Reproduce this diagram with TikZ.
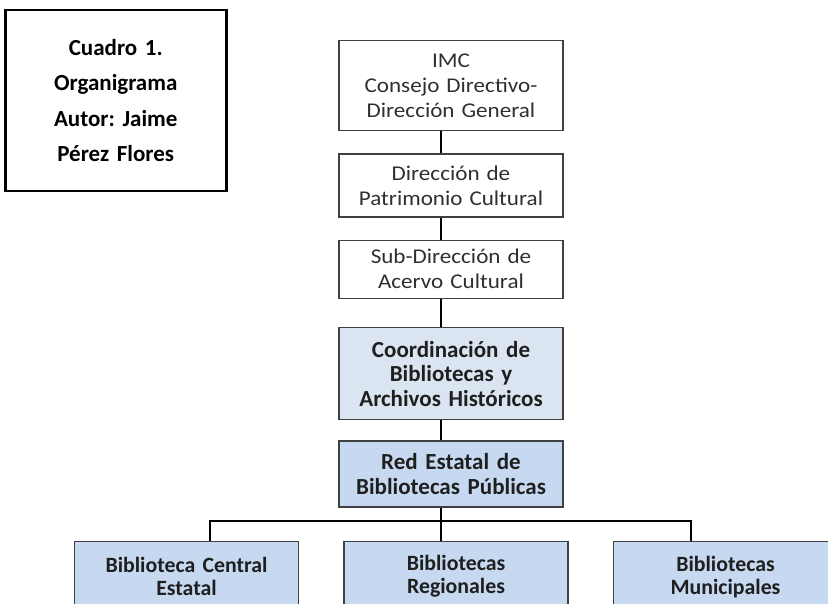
\documentclass[tikz,border=0pt]{standalone}
\usepackage{fontspec}
\setmainfont{Carlito}
\newfontfamily\widefont[FakeStretch=1.1]{Carlito}
\usetikzlibrary{positioning}
\definecolor{paleblue}{HTML}{DBE5F1}
\definecolor{lightblue}{HTML}{C6D9F1}
\definecolor{boxline}{HTML}{404040}
\definecolor{greytext}{HTML}{2F2F2F}
\tikzstyle{title} = [rectangle, minimum width=221pt, minimum height=181pt, text width=210pt, align=center, draw=black, line width=2.8pt, font=\fontsize{23}{35.5}\selectfont\bfseries]
\tikzstyle{unit} = [rectangle, minimum width=224pt, text width=216pt, align=center, draw=boxline, line width=1.3pt, text=greytext, font=\widefont\fontsize{21}{25}\selectfont]
\tikzstyle{coordbox} = [unit, fill=paleblue, text=black!88, font=\rmfamily\fontsize{23}{24.5}\selectfont\bfseries]
\tikzstyle{netbox} = [coordbox, fill=lightblue]
\tikzstyle{branch} = [netbox, anchor=north, minimum height=70pt, font=\rmfamily\fontsize{21.8}{23}\selectfont\bfseries]
\tikzstyle{link} = [line width=2.8pt]

\begin{document}
\frenchspacing
\begin{tikzpicture}[x=1pt, y=-1pt]
    \useasboundingbox (0,0) rectangle (828,603);
    \clip (0,0) rectangle (828,603);

    %nodes
    \node (caption) [title, inner sep=0pt] at (115.75,100.5) {\raisebox{3pt}{\parbox{210pt}{\centering Cuadro 1.\\ Organigrama\\ Autor: Jaime\\ Pérez Flores}}};
    \node (imc) [unit, anchor=north, minimum height=90pt] at (451,40) {IMC\\ Consejo Directivo-\\ Dirección General};
    \node (pat) [unit, minimum height=63pt, below=22pt of imc] {Dirección de\\ Patrimonio Cultural};
    \node (sub) [unit, minimum height=58pt, below=22pt of pat] {Sub-Dirección de\\ Acervo Cultural};
    \node (coord) [coordbox, minimum height=92pt, below=28pt of sub] {Coordinación de\\ Bibliotecas y\\ Archivos Históricos};
    \node (red) [netbox, minimum height=66pt, below=20pt of coord] {Red Estatal de\\ Bibliotecas Públicas};
    \node (central) [branch] at (186.5,541) {Biblioteca Central\\ Estatal};
    \node (regional) [branch] at (456,541) {Bibliotecas\\ Regionales};
    \node (municipal) [branch] at (725.5,541) {Bibliotecas\\ Municipales};

    %lines
    \coordinate (spine) at (441,0);
    \coordinate (busL) at (210,521);
    \coordinate (busR) at (691,521);
    \draw [link] (imc.south -| spine) -- (pat.north -| spine);
    \draw [link] (pat.south -| spine) -- (sub.north -| spine);
    \draw [link] (sub.south -| spine) -- (coord.north -| spine);
    \draw [link] (coord.south -| spine) -- (red.north -| spine);
    \draw [link] (red.south -| spine) -- (spine |- busL);

    \draw [link, line cap=rect] (busL) -- (busR);
    \draw [link] (busL) -- (central.north -| busL);
    \draw [link] (spine |- busL) -- (regional.north -| spine);
    \draw [link] (busR) -- (municipal.north -| busR);
\end{tikzpicture}
\end{document}
